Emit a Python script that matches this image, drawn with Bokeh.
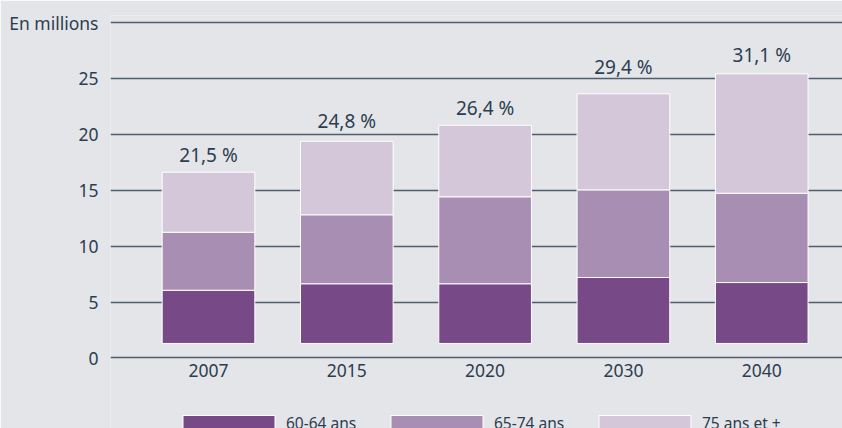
from bokeh.plotting import figure
from bokeh.models import ColumnDataSource, FixedTicker, Range1d, Legend, LegendItem
from bokeh.core.properties import value
from bokeh.embed import file_html
from bokeh.resources import INLINE

# ---- data (millions) ----
years = ["2007", "2015", "2020", "2030", "2040"]
age_60_64 = [4.76, 5.34, 5.34, 5.90, 5.45]
age_65_74 = [5.19, 6.17, 7.78, 7.84, 7.99]
age_75_plus = [5.37, 6.58, 6.40, 8.59, 10.68]
share_labels = ["21,5 %", "24,8 %", "26,4 %", "29,4 %", "31,1 %"]
series_names = ["60-64 ans", "65-74 ans", "75 ans et +"]
y_ticks = [0, 5, 10, 15, 20, 25, 30]

# ---- style ----
BG = "#e4e5e9"
TXT = "#2c3d4f"
GRID = "#4f5d6c"
COLORS = ["#774a87", "#a98eb3", "#d4c7d9"]
FONT = "Noto Sans"
bar_base = 1.3
label_offsets_px = [17, 20, 17, 27, 19]

xs = list(range(len(years)))
b1 = [bar_base] * len(years)
t1 = [b + v for b, v in zip(b1, age_60_64)]
t2 = [b + v for b, v in zip(t1, age_65_74)]
t3 = [b + v for b, v in zip(t2, age_75_plus)]

src = ColumnDataSource(dict(x=xs, b1=b1, t1=t1, t2=t2, t3=t3,
                            lab=share_labels,
                            lab_off=[-o for o in label_offsets_px]))

p = figure(width=842, height=428, output_backend="svg", toolbar_location=None,
           x_range=Range1d(-0.7086, 4.584), y_range=Range1d(-6.306, 30.635),
           min_border_left=110, min_border_right=0, min_border_top=15,
           min_border_bottom=0)
p.background_fill_color = BG
p.border_fill_color = BG
p.outline_line_color = None

r1 = p.vbar(x="x", bottom="b1", top="t1", width=0.67, source=src,
            fill_color=COLORS[0], line_color="white", line_width=1)
r2 = p.vbar(x="x", bottom="t1", top="t2", width=0.67, source=src,
            fill_color=COLORS[1], line_color="white", line_width=1)
r3 = p.vbar(x="x", bottom="t2", top="t3", width=0.67, source=src,
            fill_color=COLORS[2], line_color="white", line_width=1)

p.text(x="x", y="t3", text="lab", y_offset="lab_off", source=src,
       text_align="center", text_baseline="middle",
       text_font=value(FONT), text_font_size="19px", text_color=TXT)

# axes
p.yaxis.ticker = FixedTicker(ticks=y_ticks)
p.yaxis.major_label_overrides = {30: "En millions"}
p.yaxis.axis_line_color = None
p.yaxis.major_tick_line_color = None
p.yaxis.minor_tick_line_color = None
p.yaxis.major_label_standoff = 6
p.yaxis.major_label_text_font = FONT
p.yaxis.major_label_text_font_size = "17.5px"
p.yaxis.major_label_text_color = TXT

p.xaxis.fixed_location = 0
p.xaxis.ticker = FixedTicker(ticks=xs)
p.xaxis.major_label_overrides = {i: y for i, y in zip(xs, years)}
p.xaxis.axis_line_color = None
p.xaxis.major_tick_line_color = None
p.xaxis.minor_tick_line_color = None
p.xaxis.major_tick_out = 0
p.xaxis.major_label_standoff = 6
p.xaxis.major_label_text_font = FONT
p.xaxis.major_label_text_font_size = "17.5px"
p.xaxis.major_label_text_color = TXT

p.xgrid.grid_line_color = None
p.ygrid.ticker = FixedTicker(ticks=y_ticks)
p.ygrid.grid_line_color = GRID
p.ygrid.grid_line_width = 1.5

legend = Legend(items=[LegendItem(label=n, renderers=[r]) for n, r in zip(series_names, [r1, r2, r3])],
                orientation="horizontal", location=(61, -6),
                glyph_width=115, glyph_height=20, label_height=20,
                label_standoff=0, label_width=93,
                spacing=0, padding=0, margin=0,
                label_text_font=FONT, label_text_font_size="15.5px", label_text_color=TXT,
                background_fill_alpha=0, border_line_color=None)
p.add_layout(legend, "center")

open("out.html", "w").write(file_html(p, INLINE))
